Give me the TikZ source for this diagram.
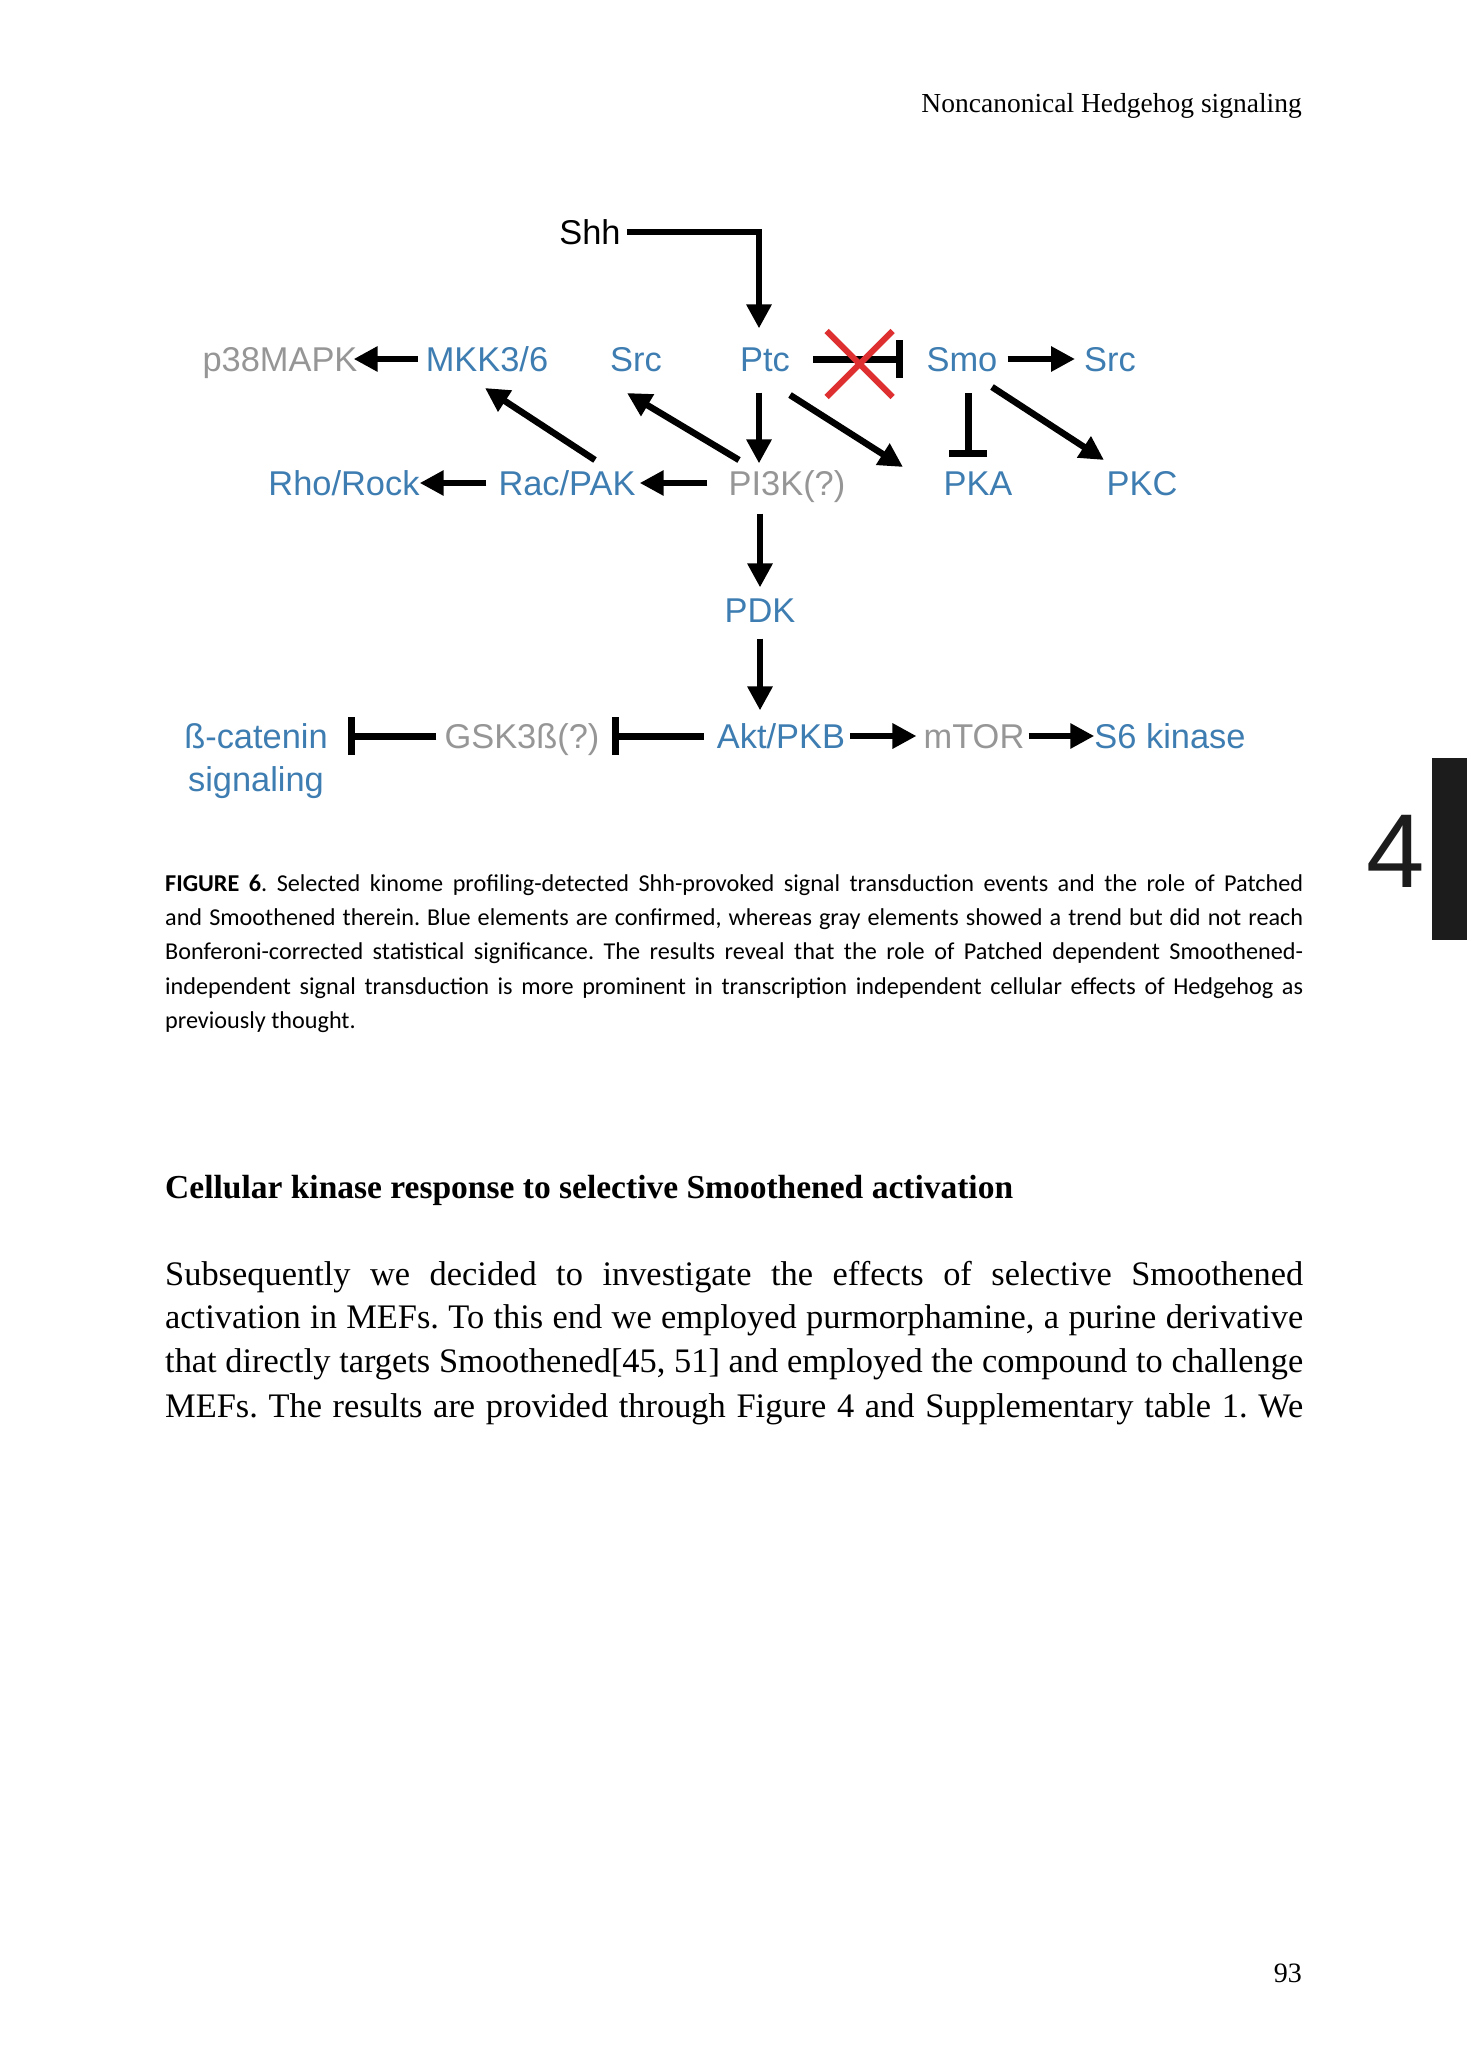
\documentclass[tikz,border=0pt]{standalone}
\usepackage{fontspec}
\setmainfont{Liberation Serif}
\newfontfamily\diagfont{Liberation Sans}
\newfontfamily\capfont{Carlito}
\usetikzlibrary{arrows.meta,calc,shapes.misc}
\definecolor{kinblue}{RGB}{62,125,177}
\definecolor{kingray}{RGB}{150,150,150}
\definecolor{xred}{RGB}{222,48,48}
\definecolor{tabblack}{RGB}{28,28,28}
\frenchspacing

\begin{document}
\begin{tikzpicture}[x=1pt,y=-1pt,
    lblfont/.style={font=\diagfont\fontsize{34.4pt}{43pt}\selectfont, inner sep=0pt},
    lbl/.style={lblfont, text height=24.8pt, text depth=0pt},
    conf/.style={lbl, text=kinblue},
    trend/.style={lbl, text=kingray},
    act/.style={line width=6.5pt, -{Triangle[length=24pt,width=24pt]}},
    inh/.style={line width=7pt, -{Bar[width=38pt]}},
    bodyline/.style={anchor=base west, inner sep=0pt, font=\fontsize{34.4pt}{44pt}\selectfont},
    capline/.style={anchor=base west, inner sep=0pt, font=\capfont\fontsize{24.2pt}{33pt}\selectfont}]
                    % Page
                    \fill[white] (0,0) rectangle (1467,2071);
                    \useasboundingbox (0,0) rectangle (1467,2071);
                    \node[anchor=base east, inner sep=0pt, font=\fontsize{27.5pt}{33pt}\selectfont] (runhead) at (1302,113) {Noncanonical Hedgehog signaling};
                    \fill[tabblack] (1432,758) rectangle (1467,940);
                    \node[anchor=base, inner sep=0pt, font=\diagfont\fontsize{105pt}{120pt}\selectfont, text=tabblack] (chapno) at (1396,887) {4};

                    % Top row
                    \node[lbl] (shh) at (590,232) {Shh};
                    \node[trend] (p38) at (280,359) {p38MAPK};
                    \node[conf] (mkk) at (487,359) {MKK3/6};
                    \node[conf] (srcL) at (636,359) {Src};
                    \node[conf] (ptc) at (765,359) {Ptc};
                    \node[conf] (smo) at (962,359) {Smo};
                    \node[conf] (srcR) at (1110,359) {Src};

                    % Second row
                    \node[conf] (rho) at (344,483) {Rho/Rock};
                    \node[conf] (rac) at (567,483) {Rac/PAK};
                    \node[trend] (pik) at (787,483) {PI3K(?)};
                    \node[conf] (pka) at (978,483) {PKA};
                    \node[conf] (pkc) at (1142,483) {PKC};
                    \node[conf] (pdk) at (760,610) {PDK};

                    % Bottom row
                    \node[lblfont, text=kinblue, align=center, anchor=north] (bcat) at (256,723) {ß-catenin\\signaling};
                    \node[trend] (gsk) at (522,736) {GSK3ß(?)};
                    \node[conf] (akt) at (781,736) {Akt/PKB};
                    \node[trend] (mtor) at (974,736) {mTOR};
                    \node[conf] (s6) at (1170,736) {S6 kinase};

                    % Vertical chain
                    \draw[act, line width=6pt, shorten <=6pt, shorten >=18pt]
                        (shh.east) -| ([xshift=-6pt]ptc.north);
                    \draw[act, shorten <=21pt, shorten >=7pt]
                        ([xshift=-6pt]ptc.south) -- ([xshift=-6pt]ptc.south |- pik.north);
                    \draw[act, shorten <=18pt, shorten >=10pt] (pik.south -| pdk.north) -- (pdk.north);
                    \draw[act, shorten <=16pt, shorten >=13pt] (pdk.south) -- (pdk.south |- akt.north);

                    % Diagonals
                    \draw[act] ($(ptc)+(25,36)$) -- ($(pka)+(-75,-16)$);
                    \draw[inh] ($(smo)+(6,34)$) -- ($(pka)+(-10,-26)$);
                    \draw[act] ($(smo)+(30,28)$) -- ($(pkc)+(-38,-23)$);
                    \draw[act] ($(pik)+(-48,-23)$) -- ($(srcL)+(-9,34)$);
                    \draw[act] ($(rac)+(28,-23)$) -- ($(mkk)+(-2,29)$);

                    % Horizontals
                    \draw[act, shorten <=8pt, shorten >=-4pt] (mkk.west) -- (p38.east);
                    \draw[act, shorten <=10pt, shorten >=9pt] (smo.east) -- (srcR.west);
                    \draw[act, shorten <=21pt, shorten >=4pt] (pik.west) -- (rac.east);
                    \draw[act, shorten <=12pt] (rac.west) -- (rho.east);
                    \draw[inh, shorten <=23pt, shorten >=23pt] (ptc.east) -- (smo.west);
                    \draw[act, shorten <=5pt, shorten >=7pt] (akt.east) -- (mtor.west);
                    \draw[act, shorten <=4pt] (mtor.east) -- (s6.west);
                    \draw[inh, shorten <=13pt, shorten >=12pt] (akt.west) -- (gsk.east);
                    \draw[inh, shorten <=8pt, shorten >=20pt] (gsk.west) -- (gsk.west -| bcat.east);

                    % Blocked Ptc-Smo link
                    \node[draw=xred, cross out, line width=6pt, minimum width=60pt, minimum height=60pt, inner sep=0pt]
                        (block) at ($(ptc)!0.48!(smo)+(0,5)$) {};

                    % Caption
                    \node[capline] (cap1) at (165,891) {\makebox[1138pt][s]{{\bfseries FIGURE 6}. Selected kinome profiling-detected Shh-provoked signal transduction events and the role of Patched}};
                    \node[capline] (cap2) at (165,925) {\makebox[1138pt][s]{and Smoothened therein. Blue elements are confirmed, whereas gray elements showed a trend but did not reach}};
                    \node[capline] (cap3) at (165,959) {\makebox[1138pt][s]{Bonferoni-corrected statistical significance. The results reveal that the role of Patched dependent Smoothened-}};
                    \node[capline] (cap4) at (165,994) {\makebox[1138pt][s]{independent signal transduction is more prominent in transcription independent cellular effects of Hedgehog as}};
                    \node[capline] (cap5) at (165,1028) {previously thought.};

                    % Section text
                    \node[anchor=base west, inner sep=0pt, font=\bfseries\fontsize{33.5pt}{40pt}\selectfont] (sechead) at (165,1198) {Cellular kinase response to selective Smoothened activation};
                    \node[bodyline] (body1) at (165,1285) {\makebox[1138pt][s]{Subsequently we decided to investigate the effects of selective Smoothened}};
                    \node[bodyline] (body2) at (165,1328) {\makebox[1138pt][s]{activation in MEFs. To this end we employed purmorphamine, a purine derivative}};
                    \node[bodyline] (body3) at (165,1372) {\makebox[1138pt][s]{that directly targets Smoothened[45, 51] and employed the compound to challenge}};
                    \node[bodyline] (body4) at (165,1417) {\makebox[1138pt][s]{MEFs. The results are provided through Figure 4 and Supplementary table 1. We}};

                    \node[anchor=base east, inner sep=0pt, font=\fontsize{28pt}{33pt}\selectfont] (pageno) at (1302,1982) {93};
                \end{tikzpicture}
\end{document}
